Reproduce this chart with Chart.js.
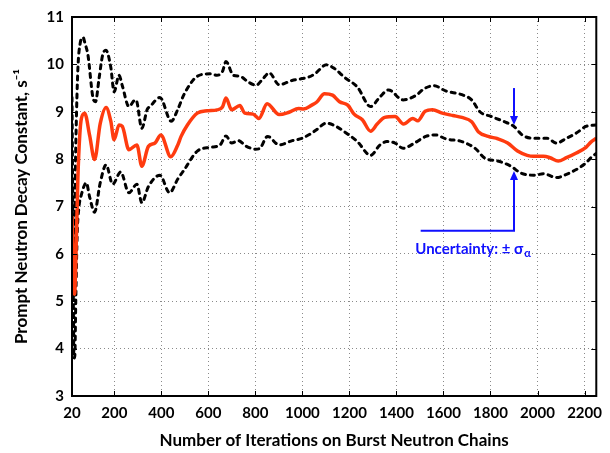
<!DOCTYPE html>
<html>
<head>
<meta charset="utf-8">
<script src="https://cdn.jsdelivr.net/npm/chart.js"></script>
<style>
  body { margin: 0; background: #fff; }
  #wrap { width: 610px; height: 453px; }
</style>
</head>
<body>
<div id="wrap"><canvas id="decayChart" width="610" height="453"></canvas></div>
<script>
// mean prompt neutron decay constant (red)
const meanX = [20, 25, 31, 36, 45, 53, 60, 74, 95, 116, 140, 165, 185, 199, 220, 234, 262, 296, 317, 345, 373, 398, 440, 470, 484, 511, 553, 595, 637, 660, 675, 699, 734, 755, 790, 815, 850, 901, 943, 984, 1005, 1040, 1060, 1094, 1128, 1158, 1193, 1220, 1255, 1290, 1318, 1350, 1394, 1430, 1470, 1491, 1522, 1553, 1595, 1640, 1678, 1720, 1748, 1790, 1831, 1873, 1915, 1956, 1984, 2025, 2053, 2088, 2123, 2165, 2206, 2227, 2250];
const meanY = [6.8, 5.8, 5.15, 5.8, 7.6, 8.5, 8.86, 8.97, 8.5, 7.99, 8.75, 9.09, 8.8, 8.41, 8.72, 8.69, 8.2, 8.3, 7.85, 8.27, 8.34, 8.51, 8.05, 8.3, 8.48, 8.72, 8.97, 9.02, 9.04, 9.1, 9.29, 9.04, 9.13, 8.97, 8.95, 8.86, 9.17, 8.94, 8.99, 9.07, 9.06, 9.14, 9.2, 9.38, 9.35, 9.21, 9.14, 8.95, 8.83, 8.59, 8.74, 8.88, 8.9, 8.74, 8.86, 8.81, 9.01, 9.04, 8.97, 8.92, 8.88, 8.79, 8.58, 8.48, 8.43, 8.34, 8.17, 8.08, 8.06, 8.06, 8.03, 7.96, 8.03, 8.13, 8.25, 8.36, 8.44];

// mean + sigma (upper dotted)
const upperX = [20, 25, 30, 37, 45, 55, 67, 75, 88, 109, 120, 135, 150, 164, 185, 199, 220, 234, 262, 289, 296, 317, 340, 352, 394, 442, 470, 495, 525, 553, 609, 637, 660, 675, 706, 734, 769, 803, 831, 859, 901, 956, 998, 1026, 1053, 1102, 1137, 1178, 1234, 1290, 1331, 1366, 1428, 1484, 1519, 1560, 1609, 1678, 1720, 1755, 1803, 1859, 1900, 1935, 1984, 2040, 2081, 2123, 2165, 2206, 2250];
const upperY = [6.3, 5.8, 6.6, 8.5, 9.9, 10.45, 10.57, 10.45, 10.19, 9.3, 9.21, 9.7, 10.19, 10.3, 9.94, 9.42, 9.77, 9.55, 9.11, 9.25, 9.21, 8.65, 9.05, 9.11, 9.3, 8.8, 9.05, 9.35, 9.6, 9.75, 9.8, 9.77, 9.85, 10.06, 9.77, 9.75, 9.63, 9.56, 9.69, 9.82, 9.57, 9.66, 9.7, 9.73, 9.8, 9.99, 9.91, 9.73, 9.52, 9.11, 9.32, 9.46, 9.25, 9.35, 9.49, 9.55, 9.44, 9.36, 9.25, 9.0, 8.9, 8.79, 8.69, 8.51, 8.44, 8.44, 8.34, 8.44, 8.55, 8.69, 8.72];

// mean - sigma (lower dotted)
const lowerX = [20, 24, 28, 32, 36, 42, 50, 60, 81, 95, 116, 140, 165, 193, 227, 262, 296, 317, 345, 394, 435, 470, 498, 553, 609, 650, 675, 699, 727, 762, 800, 817, 852, 901, 957, 998, 1040, 1060, 1102, 1143, 1178, 1234, 1290, 1330, 1359, 1394, 1428, 1477, 1525, 1567, 1609, 1678, 1734, 1776, 1831, 1887, 1928, 1984, 2025, 2081, 2123, 2165, 2206, 2227, 2250];
const lowerY = [9.3, 6.5, 3.8, 3.85, 5.0, 6.4, 7.0, 7.25, 7.5, 7.2, 6.88, 7.5, 7.88, 7.47, 7.73, 7.29, 7.47, 7.08, 7.42, 7.66, 7.29, 7.58, 7.78, 8.17, 8.25, 8.3, 8.49, 8.34, 8.39, 8.27, 8.21, 8.22, 8.48, 8.3, 8.39, 8.44, 8.55, 8.62, 8.76, 8.69, 8.58, 8.37, 8.08, 8.3, 8.37, 8.34, 8.23, 8.34, 8.48, 8.51, 8.43, 8.37, 8.23, 8.02, 7.96, 7.85, 7.71, 7.66, 7.69, 7.61, 7.68, 7.78, 7.92, 8.03, 8.12];

const xTicks = [20, 200, 400, 600, 800, 1000, 1200, 1400, 1600, 1800, 2000, 2200];
const yTicks = [3, 4, 5, 6, 7, 8, 9, 10, 11];

// uncertainty callout (data coordinates)
const arrowX = 1900;
const downArrow = [9.5, 8.72];
const upArrow = [6.49, 7.75];
const elbowStartX = 1503;
const noteText = ['Uncertainty: \u00b1 \u03c3', '\u03b1'];
const noteAt = [1480, 6.1];

const toPoints = (xs, ys) => xs.map((x, i) => ({ x: x, y: ys[i] }));

const BLUE = '#1010ff';
const TICK_FONT = { family: 'Lato', weight: 'bold', size: 15 };
const TITLE_FONT = { family: 'Lato', weight: 'bold', size: 17 };

function arrowHead(ctx, x, y, dir) {
  // dir: 1 = pointing down, -1 = pointing up
  ctx.beginPath();
  ctx.moveTo(x, y);
  ctx.lineTo(x - 4, y - dir * 9);
  ctx.lineTo(x + 4, y - dir * 9);
  ctx.closePath();
  ctx.fill();
}

const framePlugin = {
  id: 'frame',
  afterDatasetsDraw(chart) {
    const { ctx, chartArea: a, scales: { x, y } } = chart;
    ctx.save();
    // inner tick marks
    ctx.strokeStyle = '#000';
    ctx.lineWidth = 1;
    xTicks.forEach(v => {
      const px = Math.round(x.getPixelForValue(v)) + 0.5;
      ctx.beginPath();
      ctx.moveTo(px, a.bottom);
      ctx.lineTo(px, a.bottom - 5);
      ctx.moveTo(px, a.top);
      ctx.lineTo(px, a.top + 5);
      ctx.stroke();
    });
    yTicks.forEach(v => {
      const py = Math.round(y.getPixelForValue(v)) + 0.5;
      ctx.beginPath();
      ctx.moveTo(a.left, py);
      ctx.lineTo(a.left + 5, py);
      ctx.moveTo(a.right, py);
      ctx.lineTo(a.right - 5, py);
      ctx.stroke();
    });
    // frame
    ctx.lineWidth = 2;
    ctx.strokeRect(a.left, a.top, a.right - a.left, a.bottom - a.top);

    // uncertainty callout
    const ax = x.getPixelForValue(arrowX);
    ctx.strokeStyle = BLUE;
    ctx.fillStyle = BLUE;
    ctx.lineWidth = 2;
    const d0 = y.getPixelForValue(downArrow[0]);
    const d1 = y.getPixelForValue(downArrow[1]);
    ctx.beginPath();
    ctx.moveTo(ax, d0);
    ctx.lineTo(ax, d1 - 6);
    ctx.stroke();
    arrowHead(ctx, ax, d1, 1);

    const u0 = y.getPixelForValue(upArrow[0]);
    const u1 = y.getPixelForValue(upArrow[1]);
    ctx.beginPath();
    ctx.moveTo(x.getPixelForValue(elbowStartX), u0);
    ctx.lineTo(ax, u0);
    ctx.lineTo(ax, u1 + 6);
    ctx.stroke();
    arrowHead(ctx, ax, u1, -1);

    ctx.font = 'bold 15px Lato, "DejaVu Sans", sans-serif';
    ctx.textBaseline = 'middle';
    ctx.textAlign = 'left';
    const tx = x.getPixelForValue(noteAt[0]);
    const ty = y.getPixelForValue(noteAt[1]);
    ctx.fillText(noteText[0], tx, ty);
    const w = ctx.measureText(noteText[0]).width;
    ctx.font = 'bold 11px Lato, "DejaVu Sans", sans-serif';
    ctx.fillText(noteText[1], tx + w + 1, ty + 4);
    ctx.restore();
  }
};

new Chart(document.getElementById('decayChart'), {
  type: 'line',
  data: {
    datasets: [
      {
        label: 'Mean',
        data: toPoints(meanX, meanY),
        borderColor: '#ff3b0f',
        borderWidth: 3.5,
        pointRadius: 0,
        cubicInterpolationMode: 'monotone',
        order: 0
      },
      {
        label: 'Upper',
        data: toPoints(upperX, upperY),
        borderColor: '#000',
        borderWidth: 3,
        borderDash: [4, 5],
        borderCapStyle: 'round',
        pointRadius: 0,
        cubicInterpolationMode: 'monotone',
        order: 1
      },
      {
        label: 'Lower',
        data: toPoints(lowerX, lowerY),
        borderColor: '#000',
        borderWidth: 3,
        borderDash: [4, 5],
        borderCapStyle: 'round',
        pointRadius: 0,
        cubicInterpolationMode: 'monotone',
        order: 2
      }
    ]
  },
  options: {
    responsive: false,
    animation: false,
    layout: { padding: { left: 0, right: 3, top: 14, bottom: 0 } },
    plugins: { legend: { display: false }, tooltip: { enabled: false } },
    scales: {
      x: {
        type: 'linear',
        min: 20,
        max: 2250,
        afterBuildTicks: s => { s.ticks = xTicks.map(v => ({ value: v })); },
        afterFit: s => { s.height = 57; },
        grid: { color: '#8a8a8a', lineWidth: 1, drawTicks: false },
        border: { display: false, dash: [1, 3] },
        ticks: { color: '#000', font: TICK_FONT, padding: 8, maxRotation: 0, autoSkip: false, callback: v => String(v) },
        title: {
          display: true,
          text: 'Number of Iterations on Burst Neutron Chains',
          color: '#000',
          font: TITLE_FONT,
          padding: { top: 4, bottom: 2 }
        }
      },
      y: {
        min: 3,
        max: 11,
        afterBuildTicks: s => { s.ticks = yTicks.map(v => ({ value: v })); },
        afterFit: s => { s.width = 72; },
        grid: { color: '#8a8a8a', lineWidth: 1, drawTicks: false },
        border: { display: false, dash: [1, 3] },
        ticks: { color: '#000', font: TICK_FONT, padding: 8 },
        title: {
          display: true,
          text: 'Prompt Neutron Decay Constant, s\u207b\u00b9',
          color: '#000',
          font: TITLE_FONT,
          padding: { top: 11, bottom: 0 }
        }
      }
    }
  },
  plugins: [framePlugin]
});
</script>
</body>
</html>
